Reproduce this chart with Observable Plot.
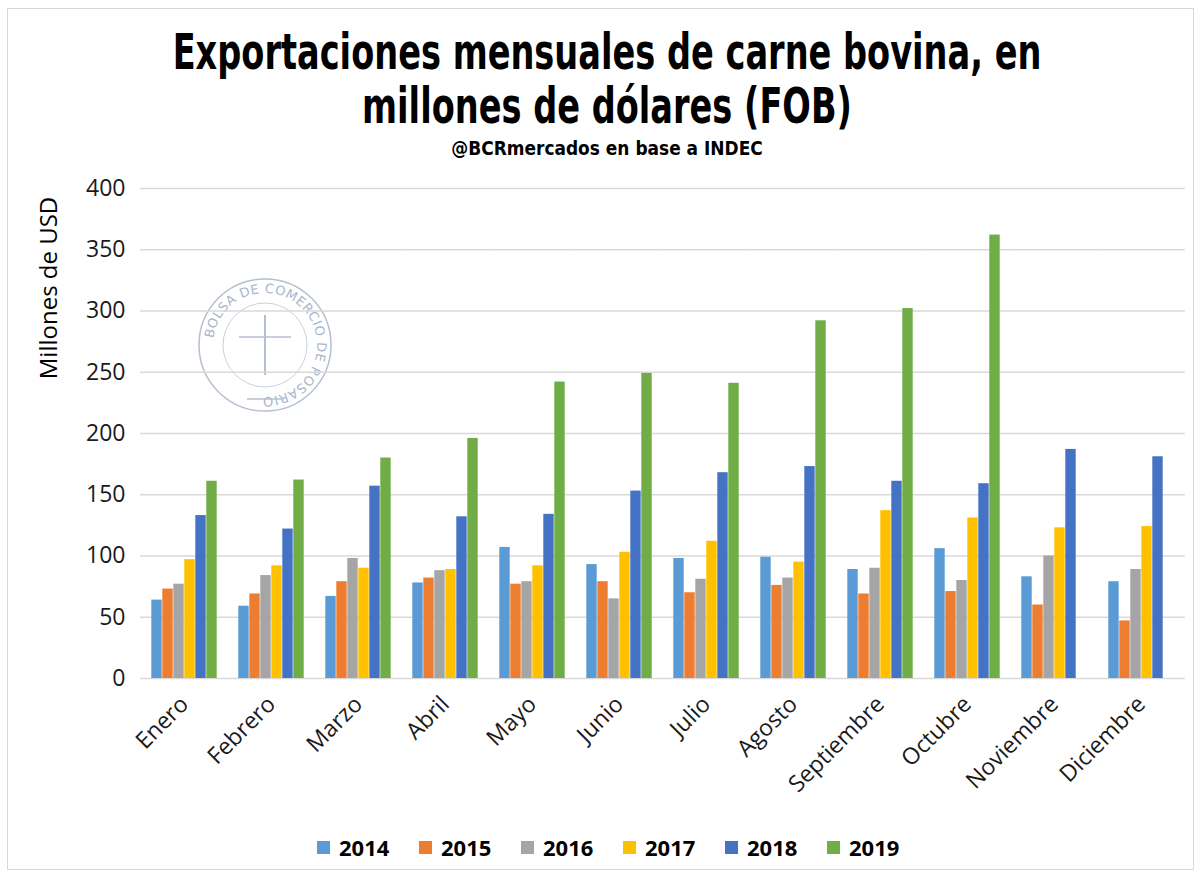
<!DOCTYPE html>
<html>
<head>
<meta charset="utf-8">
<script src="https://cdn.jsdelivr.net/npm/d3@7"></script>
<script src="https://cdn.jsdelivr.net/npm/@observablehq/plot@0.6"></script>
<style>
  html, body { margin: 0; padding: 0; background: #fff; }
  #wrap { position: relative; width: 1201px; height: 875px; overflow: hidden; background: #fff; }
  #frame { position: absolute; left: 7px; top: 8px; width: 1187px; height: 862px; border: 1px solid #d9d9d9; box-sizing: border-box; }
  .title { position: absolute; left: -200px; width: 1614px; text-align: center; color: #000; white-space: nowrap;
    font-family: "DejaVu Sans", sans-serif; font-weight: bold; transform: scaleX(0.672); transform-origin: 807px 0; }
  #t1 { top: 24px; font-size: 50px; line-height: 56px; }
  #t2 { top: 78px; font-size: 50px; line-height: 56px; }
  #sub { top: 136px; font-size: 20px; line-height: 24px; transform: scaleX(0.85); }
  #ylab { position: absolute; left: 47px; top: 288px; transform: translate(-50%, -50%) rotate(-90deg);
    font-family: "Open Sans", sans-serif; font-size: 24px; color: #000; white-space: nowrap; }
  #chart { position: absolute; left: 0; top: 170px; }
  #legend { position: absolute; top: 832px; left: 0; width: 1246px; display: flex; justify-content: center;
    font-family: "Open Sans", sans-serif; font-weight: bold; font-size: 22px; color: #000; }
  .item { display: flex; align-items: center; width: 102px; }
  .sw { width: 13px; height: 13px; margin-right: 9px; }
  #seal { position: absolute; left: 195px; top: 275px; }
</style>
</head>
<body>
<div id="wrap">
  <div id="frame"></div>
  <div class="title" id="t1">Exportaciones mensuales de carne bovina, en</div>
  <div class="title" id="t2">millones de dólares (FOB)</div>
  <div class="title" id="sub">@BCRmercados en base a INDEC</div>
  <svg id="seal" width="140" height="140" viewBox="0 0 140 140">
    <defs><path id="arc" d="M 70 70 m -52 0 a 52 52 0 1 1 104 0 a 52 52 0 1 1 -104 0"/></defs>
    <circle cx="70" cy="70" r="66" fill="none" stroke="#b4bfd2" stroke-width="1.5"/>
    <circle cx="70" cy="70" r="42" fill="none" stroke="#c8d0de" stroke-width="1"/>
    <text font-family="DejaVu Sans, sans-serif" font-size="13" fill="#a9b6cc" letter-spacing="0.5">
      <textPath href="#arc" startOffset="2%">BOLSA DE COMERCIO DE ROSARIO</textPath>
    </text>
    <line x1="52" y1="124" x2="88" y2="124" stroke="#b4bfd2" stroke-width="1.5"/>
    <line x1="70" y1="40" x2="70" y2="100" stroke="#b4bfd2" stroke-width="2"/>
    <line x1="44" y1="62" x2="96" y2="62" stroke="#b4bfd2" stroke-width="1.5"/>
  </svg>
  <div id="ylab">Millones de USD</div>
  <div id="chart"></div>
  <div id="legend"></div>
</div>
<script>
const months = ["Enero","Febrero","Marzo","Abril","Mayo","Junio","Julio","Agosto","Septiembre","Octubre","Noviembre","Diciembre"];
const years = ["2014","2015","2016","2017","2018","2019"];
const colors = ["#5b9bd5","#ed7d31","#a5a5a5","#ffc000","#4472c4","#70ad47"];
const v2014 = [64, 59, 67, 78, 107, 93, 98, 99, 89, 106, 83, 79];
const v2015 = [73, 69, 79, 82, 77, 79, 70, 76, 69, 71, 60, 47];
const v2016 = [77, 84, 98, 88, 79, 65, 81, 82, 90, 80, 100, 89];
const v2017 = [97, 92, 90, 89, 92, 103, 112, 95, 137, 131, 123, 124];
const v2018 = [133, 122, 157, 132, 134, 153, 168, 173, 161, 159, 187, 181];
const v2019 = [161, 162, 180, 196, 242, 249, 241, 292, 302, 362, null, null];
const yTicks = [0, 50, 100, 150, 200, 250, 300, 350, 400];

const series = [v2014, v2015, v2016, v2017, v2018, v2019];
const data = [];
series.forEach((vals, i) => vals.forEach((v, j) => {
  if (v != null) data.push({month: months[j], year: years[i], value: v});
}));

const W = 1201, ML = 137, MR = 13, PI = 0.2, PO = 0.1;
const step = (W - ML - MR) / (months.length - PI + 2 * PO);
const halfGap = step * PI / 2;

const chart = Plot.plot({
  width: W,
  height: 640,
  marginTop: 18,
  marginBottom: 132,
  marginLeft: ML,
  marginRight: MR,
  style: {fontFamily: "'Open Sans', sans-serif", color: "#1a1a1a", background: "transparent"},
  fx: {domain: months, paddingInner: PI, paddingOuter: PO, label: null},
  x: {domain: years, padding: 0, axis: null},
  y: {domain: [0, 400], label: null},
  color: {domain: years, range: colors},
  marks: [
    Plot.ruleY(yTicks, {stroke: "#d9d9d9", strokeWidth: 1.5, insetLeft: -halfGap, insetRight: -halfGap}),
    Plot.barY(data, {fx: "month", x: "year", y: "value", fill: "year", insetLeft: 0.3, insetRight: 0.3}),
    Plot.axisY(yTicks, {tickSize: 0, tickPadding: 24, fontSize: 23, label: null, facetAnchor: "left"}),
    Plot.axisFx({anchor: "bottom", tickRotate: -45, tickSize: 0, tickPadding: 22, fontSize: 23, label: null})
  ]
});
document.getElementById("chart").appendChild(chart);

const legend = document.getElementById("legend");
years.forEach((y, i) => {
  const it = document.createElement("div");
  it.className = "item";
  const sw = document.createElement("span");
  sw.className = "sw";
  sw.style.background = colors[i];
  const tx = document.createElement("span");
  tx.textContent = y;
  it.appendChild(sw); it.appendChild(tx);
  legend.appendChild(it);
});
</script>
</body>
</html>
